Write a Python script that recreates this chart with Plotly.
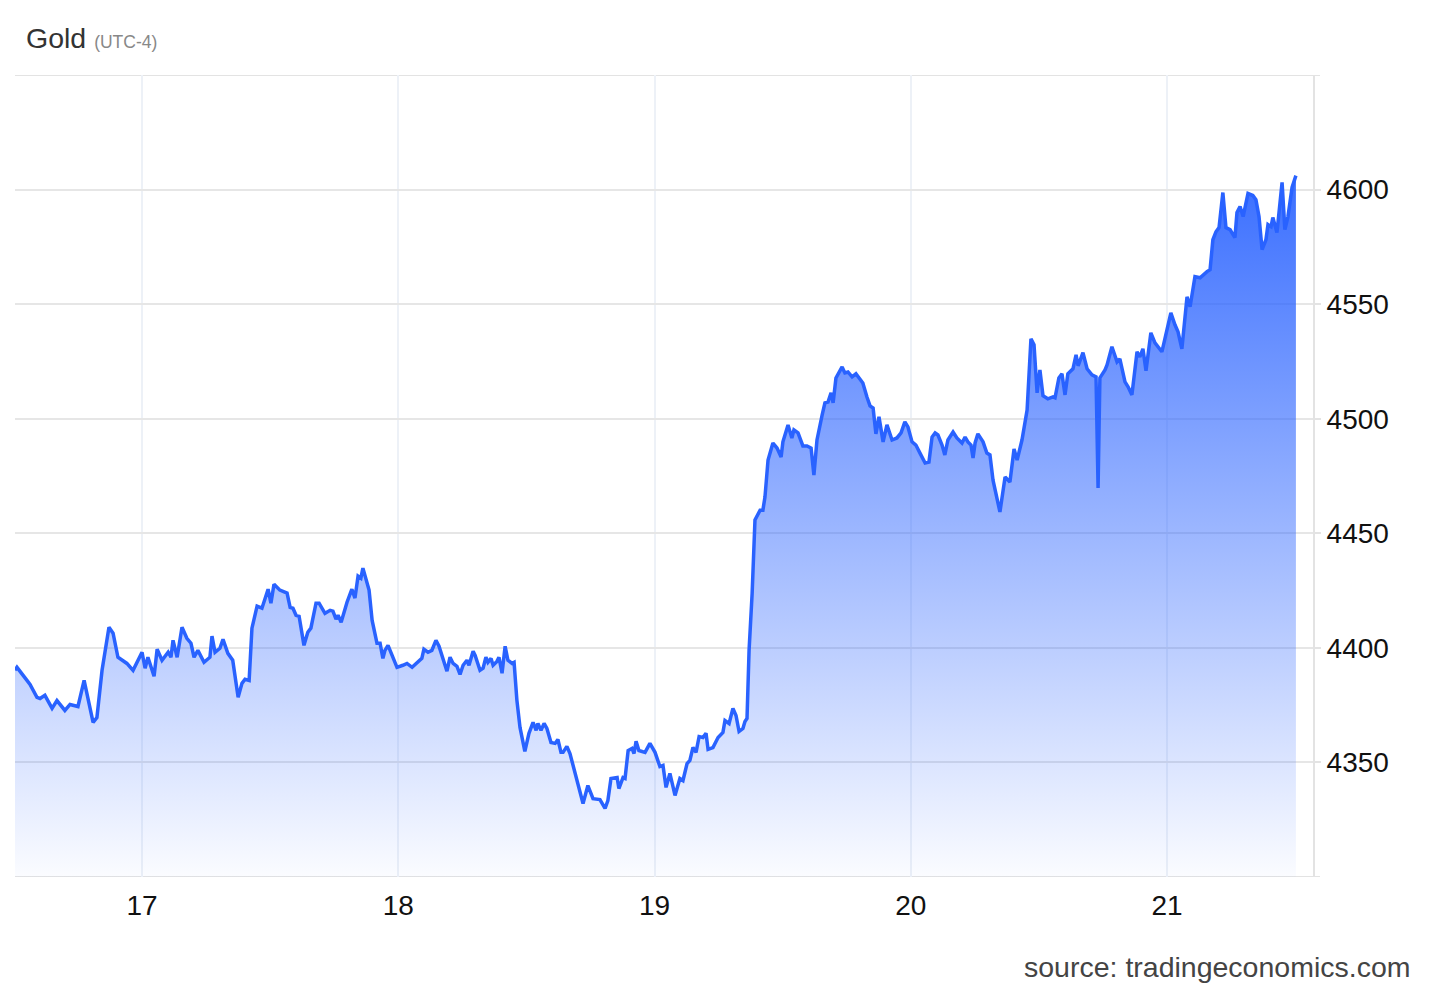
import plotly.graph_objects as go

# Time in fractional days (day of month), price in USD/oz
days = [16.504, 16.512, 16.551, 16.563, 16.590, 16.602, 16.621, 16.649, 16.668, 16.699,
        16.719, 16.750, 16.774, 16.809, 16.824, 16.844, 16.871, 16.887, 16.906, 16.926,
        16.941, 16.965, 17.000, 17.012, 17.023, 17.047, 17.059, 17.078, 17.102, 17.113,
        17.121, 17.137, 17.156, 17.175, 17.191, 17.203, 17.218, 17.242, 17.265, 17.273,
        17.285, 17.304, 17.316, 17.335, 17.354, 17.375, 17.390, 17.402, 17.418, 17.429,
        17.449, 17.468, 17.492, 17.503, 17.515, 17.538, 17.566, 17.578, 17.589, 17.601,
        17.613, 17.632, 17.647, 17.659, 17.679, 17.691, 17.714, 17.734, 17.745, 17.757,
        17.765, 17.777, 17.800, 17.819, 17.831, 17.843, 17.854, 17.862, 17.886, 17.898,
        17.909, 17.917, 17.929, 17.940, 17.948, 17.960, 17.976, 17.995, 18.018, 18.034,
        18.054, 18.073, 18.092, 18.100, 18.116, 18.131, 18.147, 18.159, 18.175, 18.190,
        18.202, 18.214, 18.229, 18.241, 18.253, 18.268, 18.276, 18.292, 18.300, 18.319,
        18.331, 18.342, 18.350, 18.362, 18.370, 18.385, 18.393, 18.405, 18.417, 18.428,
        18.444, 18.452, 18.463, 18.475, 18.494, 18.510, 18.526, 18.538, 18.545, 18.557,
        18.569, 18.580, 18.596, 18.612, 18.623, 18.635, 18.643, 18.658, 18.670, 18.690,
        18.701, 18.721, 18.740, 18.760, 18.787, 18.807, 18.818, 18.830, 18.854, 18.861,
        18.877, 18.885, 18.897, 18.912, 18.920, 18.928, 18.939, 18.963, 18.982, 19.002,
        19.021, 19.033, 19.045, 19.060, 19.080, 19.099, 19.111, 19.127, 19.138, 19.150,
        19.162, 19.174, 19.189, 19.201, 19.209, 19.228, 19.248, 19.267, 19.275, 19.291,
        19.306, 19.318, 19.330, 19.345, 19.353, 19.361, 19.369, 19.381, 19.392, 19.412,
        19.423, 19.431, 19.443, 19.455, 19.462, 19.478, 19.494, 19.501, 19.521, 19.536,
        19.544, 19.560, 19.579, 19.595, 19.611, 19.622, 19.634, 19.654, 19.665, 19.677,
        19.689, 19.697, 19.708, 19.732, 19.743, 19.755, 19.771, 19.786, 19.802, 19.813,
        19.829, 19.841, 19.853, 19.864, 19.876, 19.892, 19.907, 19.927, 19.946, 19.962,
        19.977, 19.989, 20.005, 20.020, 20.036, 20.056, 20.071, 20.083, 20.095, 20.106,
        20.122, 20.133, 20.145, 20.165, 20.180, 20.200, 20.212, 20.223, 20.235, 20.243,
        20.251, 20.262, 20.282, 20.297, 20.309, 20.321, 20.348, 20.368, 20.387, 20.403,
        20.415, 20.434, 20.454, 20.469, 20.481, 20.493, 20.504, 20.516, 20.535, 20.555,
        20.563, 20.578, 20.590, 20.602, 20.613, 20.633, 20.645, 20.653, 20.672, 20.688,
        20.707, 20.723, 20.731, 20.738, 20.758, 20.766, 20.785, 20.805, 20.816, 20.836,
        20.848, 20.863, 20.883, 20.894, 20.906, 20.918, 20.937, 20.953, 20.980, 20.996,
        21.015, 21.031, 21.043, 21.058, 21.078, 21.090, 21.109, 21.129, 21.140, 21.156,
        21.168, 21.179, 21.191, 21.203, 21.218, 21.230, 21.246, 21.265, 21.273, 21.285,
        21.297, 21.316, 21.335, 21.347, 21.359, 21.371, 21.386, 21.394, 21.406, 21.413,
        21.429, 21.449, 21.460, 21.472, 21.488, 21.503]

price = [4390.2, 4391.5, 4385.8, 4384.0, 4378.4, 4377.9, 4379.3, 4373.6, 4377.0, 4372.7,
         4375.3, 4374.4, 4385.8, 4367.5, 4369.6, 4390.2, 4409.0, 4406.4, 4395.9, 4394.6,
         4393.2, 4390.2, 4398.1, 4391.1, 4395.9, 4387.6, 4399.4, 4394.6, 4398.1, 4395.9,
         4403.3, 4395.9, 4409.0, 4404.2, 4402.0, 4395.9, 4398.9, 4393.7, 4395.9, 4405.1,
         4398.1, 4399.8, 4403.7, 4397.6, 4394.6, 4378.4, 4384.5, 4386.3, 4385.8, 4408.6,
         4418.2, 4417.3, 4425.6, 4419.5, 4427.8, 4425.2, 4423.9, 4417.7, 4417.3, 4414.2,
         4413.8, 4401.1, 4406.8, 4408.6, 4419.5, 4419.5, 4415.1, 4416.4, 4416.0, 4412.5,
         4414.2, 4411.2, 4419.9, 4425.6, 4421.7, 4431.3, 4430.4, 4434.8, 4425.2, 4412.0,
         4406.8, 4402.0, 4402.0, 4395.4, 4398.9, 4401.1, 4396.7, 4391.5, 4392.4, 4393.2,
         4391.5, 4393.7, 4395.4, 4399.4, 4398.1, 4398.9, 4403.3, 4400.7, 4395.4, 4389.8,
         4395.9, 4393.2, 4391.9, 4388.4, 4392.4, 4394.6, 4392.4, 4398.5, 4396.7, 4390.2,
         4391.1, 4395.9, 4393.7, 4395.4, 4392.4, 4394.1, 4395.9, 4388.9, 4400.7, 4394.6,
         4393.2, 4393.7, 4377.1, 4365.3, 4354.8, 4362.7, 4367.5, 4364.0, 4367.0, 4364.0,
         4367.0, 4364.8, 4358.7, 4358.3, 4360.0, 4354.4, 4354.4, 4357.0, 4353.9, 4345.2,
         4340.8, 4332.1, 4339.9, 4334.2, 4333.8, 4329.9, 4333.4, 4343.0, 4343.4, 4338.6,
         4343.4, 4343.0, 4355.2, 4356.1, 4353.9, 4359.2, 4355.2, 4354.4, 4358.3, 4354.4,
         4348.2, 4348.7, 4339.1, 4345.2, 4335.6, 4343.0, 4342.1, 4349.5, 4350.9, 4356.5,
         4354.4, 4361.3, 4360.9, 4362.7, 4355.7, 4356.5, 4360.9, 4363.1, 4368.3, 4367.0,
         4373.6, 4370.5, 4363.5, 4364.8, 4367.9, 4369.2, 4398.9, 4423.9, 4455.8, 4460.1,
         4460.1, 4465.8, 4482.0, 4487.2, 4489.4, 4487.2, 4483.3, 4489.9, 4497.3, 4491.6,
         4495.1, 4493.8, 4488.1, 4488.1, 4487.2, 4475.4, 4490.7, 4501.6, 4506.9, 4507.3,
         4511.3, 4506.9, 4517.8, 4522.6, 4520.0, 4520.4, 4518.3, 4519.6, 4517.0, 4515.6,
         4509.5, 4505.6, 4504.7, 4493.4, 4500.8, 4489.9, 4497.3, 4490.7, 4491.6, 4493.8,
         4498.6, 4496.4, 4489.9, 4488.5, 4485.0, 4480.7, 4481.1, 4492.0, 4493.8, 4492.9,
         4488.5, 4484.2, 4490.7, 4494.2, 4491.6, 4489.4, 4492.0, 4489.9, 4488.5, 4482.9,
         4489.4, 4493.4, 4489.9, 4485.0, 4484.2, 4473.2, 4459.3, 4474.6, 4472.4, 4486.8,
         4482.0, 4490.7, 4503.8, 4534.9, 4532.3, 4511.3, 4521.3, 4510.0, 4508.7, 4509.5,
         4509.1, 4517.8, 4519.6, 4510.4, 4519.6, 4521.8, 4527.9, 4523.1, 4528.8, 4521.8,
         4519.1, 4518.3, 4469.8, 4517.8, 4521.3, 4523.5, 4531.4, 4524.8, 4526.1, 4516.1,
         4513.9, 4510.4, 4529.2, 4527.0, 4530.5, 4520.9, 4537.5, 4533.1, 4529.2, 4537.5,
         4546.2, 4541.0, 4537.9, 4530.5, 4553.2, 4548.9, 4562.0, 4561.5, 4562.8, 4564.2,
         4565.0, 4578.1, 4581.6, 4583.4, 4598.7, 4583.4, 4582.5, 4579.0, 4590.0, 4592.6,
         4588.2, 4598.3, 4597.4, 4595.6, 4588.2, 4573.8, 4578.1, 4584.7, 4583.8, 4587.8,
         4581.2, 4603.1, 4582.5, 4588.2, 4600.9, 4606.1]

x_ticks = [17, 18, 19, 20, 21]
x_labels = ["17", "18", "19", "20", "21"]
y_ticks = [4350, 4400, 4450, 4500, 4550, 4600]
y_labels = ["4350", "4400", "4450", "4500", "4550", "4600"]

X_RANGE = [16.5043, 21.5697]
Y_RANGE = [4300, 4650]

FONT = "Arial, 'Liberation Sans', sans-serif"
BLUE = "#2962ff"

fig = go.Figure()

fig.add_trace(go.Scatter(
    x=days, y=price, mode="lines",
    line=dict(color=BLUE, width=3.5),
    fill="tozeroy",
    fillgradient=dict(
        type="vertical",
        start=Y_RANGE[0], stop=max(price),
        colorscale=[[0, "rgba(41,98,255,0.02)"], [1, "rgba(41,98,255,0.92)"]],
    ),
    hoverinfo="x+y", showlegend=False,
))

# top & bottom frame lines extending slightly past the plot
for yv in Y_RANGE:
    fig.add_shape(type="line", xref="paper", yref="y", x0=0, x1=1.0054, y0=yv, y1=yv,
                  line=dict(color="#e3e3e3", width=2), layer="below")

# page body has an 8px margin, so the figure is 8px smaller and shifted
fig.update_layout(
    width=1422, height=983,
    margin=dict(l=7, r=117, t=67, b=114),
    paper_bgcolor="white", plot_bgcolor="white",
    font=dict(family=FONT, color="#111"),
    xaxis=dict(
        range=X_RANGE, tickvals=x_ticks, ticktext=x_labels,
        showgrid=True, gridcolor="#edf1f7", gridwidth=1.5,
        zeroline=False, showline=False, ticks="",
        ticklabelstandoff=9,
        tickfont=dict(size=28, color="#111"),
    ),
    yaxis=dict(
        range=Y_RANGE, side="right", tickvals=y_ticks, ticktext=y_labels,
        showgrid=True, gridcolor="#e6e6e6", gridwidth=2,
        zeroline=False, showline=True, linecolor="#e3e3e3", linewidth=2,
        ticks="outside", ticklen=6, tickcolor="#e3e3e3", tickwidth=2,
        tickfont=dict(size=28, color="#111"),
    ),
    annotations=[
        dict(text="Gold <span style='font-size:17.5px;color:#888'>(UTC-4)</span>",
             xref="paper", yref="paper", x=0.007, y=1.0, xanchor="left", yanchor="bottom",
             yshift=19, showarrow=False, font=dict(size=28.5, color="#333", family=FONT)),
        dict(text="source: tradingeconomics.com", xref="paper", yref="paper",
             x=1.077, y=0, xanchor="right", yanchor="top", yshift=-72,
             showarrow=False, font=dict(size=28.5, color="#444", family=FONT)),
    ],
)

fig.write_html("out.html")
